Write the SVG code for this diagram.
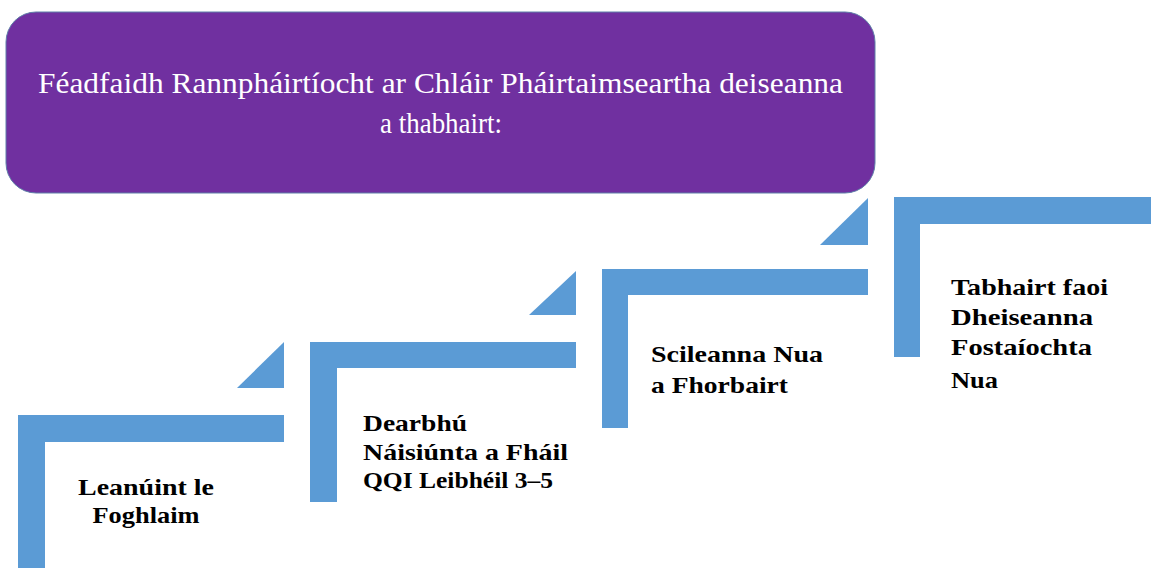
<svg xmlns="http://www.w3.org/2000/svg" width="1151" height="568" viewBox="0 0 1151 568">
<style>
.bar{fill:#5B9BD5}
.head{fill:#FFFFFF;font-family:"Liberation Serif","DejaVu Serif",serif;font-size:29px}
.lbl{fill:#000000;font-family:"Liberation Serif","DejaVu Serif",serif;font-size:23px;font-weight:bold}
</style>
<rect width="1151" height="568" fill="#FFFFFF"/>
<g id="header">
<rect x="6" y="12" width="869" height="181" rx="30" ry="30" fill="#7030A0" stroke="#5E7FA8" stroke-width="1"/>
<text class="head" x="440.5" y="93" text-anchor="middle" textLength="805" lengthAdjust="spacingAndGlyphs">Féadfaidh Rannpháirtíocht ar Chláir Pháirtaimseartha deiseanna</text>
<text class="head" x="441" y="133" text-anchor="middle" textLength="122" lengthAdjust="spacingAndGlyphs">a thabhairt:</text>
</g>
<g id="connectors">
<polygon class="bar" points="284,342 284,388 237,388"/>
<polygon class="bar" points="576,271 576,315 529,315"/>
<polygon class="bar" points="868,198 868,245 820,245"/>
</g>
<g id="step1">
<path class="bar" d="M18,415 H284 V442 H45 V568 H18 Z"/>
<text class="lbl" x="146" y="495" text-anchor="middle" textLength="136" lengthAdjust="spacingAndGlyphs">Leanúint le</text>
<text class="lbl" x="146" y="523" text-anchor="middle" textLength="107" lengthAdjust="spacingAndGlyphs">Foghlaim</text>
</g>
<g id="step2">
<path class="bar" d="M310,342 H576 V368 H337 V502 H310 Z"/>
<text class="lbl" x="363" y="431" textLength="104" lengthAdjust="spacingAndGlyphs">Dearbhú</text>
<text class="lbl" x="363" y="460" textLength="205" lengthAdjust="spacingAndGlyphs">Náisiúnta a Fháil</text>
<text class="lbl" x="363" y="488" textLength="190" lengthAdjust="spacingAndGlyphs">QQI Leibhéil 3–5</text>
</g>
<g id="step3">
<path class="bar" d="M602,269 H868 V295 H628 V428 H602 Z"/>
<text class="lbl" x="651" y="362" textLength="172" lengthAdjust="spacingAndGlyphs">Scileanna Nua</text>
<text class="lbl" x="651" y="393" textLength="137" lengthAdjust="spacingAndGlyphs">a Fhorbairt</text>
</g>
<g id="step4">
<path class="bar" d="M894,197 H1151 V224 H920 V357 H894 Z"/>
<text class="lbl" x="951" y="295" textLength="157" lengthAdjust="spacingAndGlyphs">Tabhairt faoi</text>
<text class="lbl" x="951" y="325" textLength="142" lengthAdjust="spacingAndGlyphs">Dheiseanna</text>
<text class="lbl" x="951" y="355" textLength="141" lengthAdjust="spacingAndGlyphs">Fostaíochta</text>
<text class="lbl" x="951" y="388" textLength="47" lengthAdjust="spacingAndGlyphs">Nua</text>
</g>
</svg>
